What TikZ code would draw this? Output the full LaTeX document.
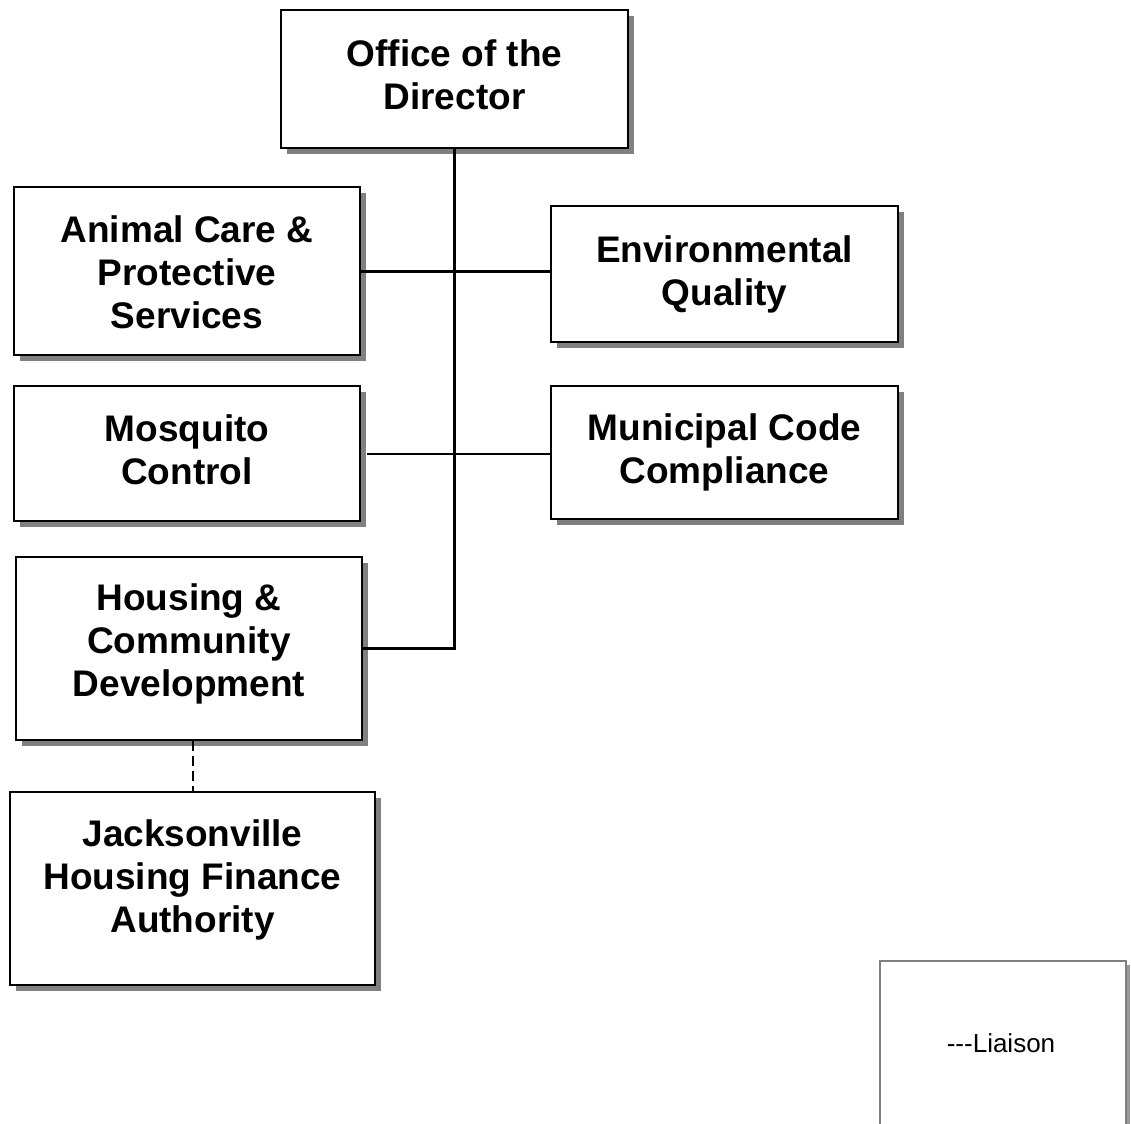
\documentclass[tikz,border=0pt]{standalone}
\usepackage{fontspec}
\setmainfont{Liberation Sans}
\usetikzlibrary{shadows}
\begin{document}
\begin{tikzpicture}[x=1pt,y=-1pt,
  unit/.style={draw=black, line width=2pt, fill=white, inner sep=0pt,
    drop shadow={shadow xshift=6pt, shadow yshift=-6pt, fill=black!50, opacity=1}},
  unittext/.style={align=center, font=\fontsize{37}{43}\selectfont\bfseries, inner sep=0pt},
  legendbox/.style={draw=black!50, line width=2.5pt, fill=white, inner sep=0pt,
    drop shadow={shadow xshift=4pt, shadow yshift=-4pt, fill=black!40, opacity=1}},
  legendtext/.style={font=\fontsize{26}{30}\selectfont, inner sep=0pt},
  conn/.style={line width=3pt},
  liaison/.style={line width=2pt, dash pattern=on 10pt off 5pt}]
\useasboundingbox (0,0) rectangle (1131,1123);

\node[unit, minimum width=347pt, minimum height=138pt,
  label={[unittext, yshift=5pt]center:Office of the\\Director}] (office) at (454.5,79.5) {};
\node[unit, minimum width=346pt, minimum height=168pt,
  label={[unittext, yshift=-1pt]center:Animal Care \&\\Protective\\Services}] (animal) at (187,271) {};
\node[unit, minimum width=347pt, minimum height=136pt,
  label={[unittext]center:Environmental\\Quality}] (env) at (724.5,274) {};
\node[unit, minimum width=346pt, minimum height=135pt,
  label={[unittext, yshift=4pt]center:Mosquito\\Control}] (mosq) at (187,453.5) {};
\node[unit, minimum width=347pt, minimum height=133pt,
  label={[unittext]center:Municipal Code\\Compliance}] (muni) at (724.5,452.5) {};
\node[unit, minimum width=346pt, minimum height=183pt,
  label={[unittext, yshift=5pt]center:Housing \&\\Community\\Development}] (housing) at (189,648.5) {};
\node[unit, minimum width=365pt, minimum height=193pt,
  label={[unittext, yshift=9pt]center:Jacksonville\\Housing Finance\\Authority}] (jack) at (192.5,888.5) {};
\node[legendbox, minimum width=246pt, minimum height=170pt,
  label={[legendtext, yshift=3pt, xshift=-2pt]center:-{}-{}-Liaison}] (legend) at (1003,1046) {};

\draw[conn] (office.south) |- (housing.east);
\draw[conn] (animal.east) -- (animal.east -| env.west);
\draw[line width=2pt, shorten <=6pt] (mosq.east) -- (mosq.east -| muni.west);
\draw[liaison] (jack.north |- housing.south) -- (jack.north);
\end{tikzpicture}
\end{document}
